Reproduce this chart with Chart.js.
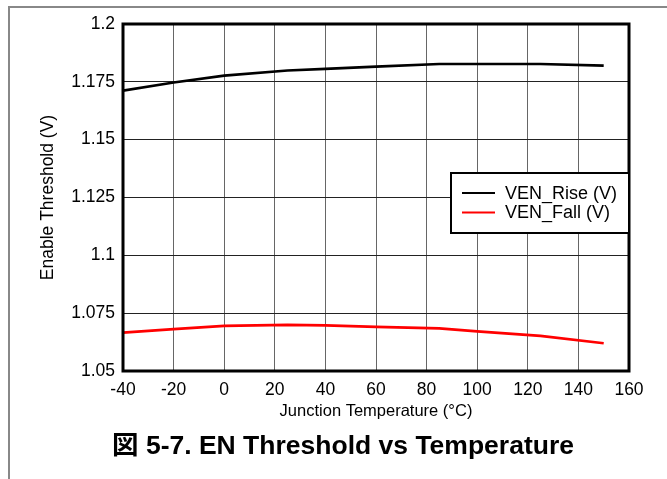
<!DOCTYPE html>
<html>
<head>
<meta charset="utf-8">
<script src="https://cdn.jsdelivr.net/npm/chart.js@4"></script>
<style>
  html, body { margin: 0; padding: 0; background: #fff; }
  #wrap { position: relative; width: 667px; height: 479px; }
  #frame { position: absolute; left: 8px; top: 6px; right: 0; bottom: 0;
           border-left: 2px solid #888; border-top: 2px solid #888; }
  canvas { position: absolute; left: 0; top: 0; }
</style>
</head>
<body>
<div id="wrap">
  <div id="frame"></div>
  <canvas id="enChart" width="667" height="479"></canvas>
</div>
<script>
const temps = [-40, -20, 0, 25, 40, 60, 85, 100, 125, 150];
const venRise = [1.1712, 1.1747, 1.1777, 1.1799, 1.1806, 1.1816, 1.1827, 1.1827, 1.1827, 1.1820];
const venFall = [1.0666, 1.0681, 1.0695, 1.0699, 1.0697, 1.0691, 1.0684, 1.0671, 1.0652, 1.0620];
const xTicks = [-40, -20, 0, 20, 40, 60, 80, 100, 120, 140, 160];
const yTicks = [1.05, 1.075, 1.1, 1.125, 1.15, 1.175, 1.2];
const caption = '図 5-7. EN Threshold vs Temperature';

const FONT = '"Liberation Sans", Arial, "Noto Sans CJK JP", sans-serif';
Chart.defaults.font.family = FONT;
Chart.defaults.color = '#000';

// plot frame, legend box and figure caption
const boxAndLegend = {
  id: 'boxAndLegend',
  afterDatasetsDraw(chart) {
    const ctx = chart.ctx;
    const a = chart.chartArea;
    ctx.save();
    ctx.strokeStyle = '#000';
    ctx.lineWidth = 3;
    ctx.strokeRect(a.left, a.top, a.right - a.left, a.bottom - a.top);

    const lx = 451, ly = 173, lw = a.right - lx, lh = 60;
    ctx.fillStyle = '#fff';
    ctx.fillRect(lx, ly, lw, lh);
    ctx.lineWidth = 2;
    ctx.strokeRect(lx, ly, lw, lh);
    ctx.font = '18px ' + FONT;
    ctx.textBaseline = 'middle';
    chart.data.datasets.forEach((ds, i) => {
      const y = ly + 20 + i * 19.5;
      ctx.strokeStyle = ds.borderColor;
      ctx.lineWidth = 2;
      ctx.beginPath();
      ctx.moveTo(462, y);
      ctx.lineTo(495, y);
      ctx.stroke();
      ctx.fillStyle = '#000';
      ctx.fillText(ds.label, 505, y + 1);
    });

    ctx.font = 'bold 26.5px ' + FONT;
    ctx.textAlign = 'center';
    ctx.fillStyle = '#000';
    ctx.fillText(caption, 343, 447);
    ctx.restore();
  }
};

new Chart(document.getElementById('enChart').getContext('2d'), {
  type: 'line',
  data: {
    datasets: [
      {
        label: 'VEN_Rise (V)',
        data: temps.map((t, i) => ({ x: t, y: venRise[i] })),
        borderColor: '#000',
        borderWidth: 2.7,
        pointRadius: 0,
        tension: 0
      },
      {
        label: 'VEN_Fall (V)',
        data: temps.map((t, i) => ({ x: t, y: venFall[i] })),
        borderColor: '#ff0000',
        borderWidth: 2.7,
        pointRadius: 0,
        tension: 0
      }
    ]
  },
  options: {
    responsive: false,
    animation: false,
    layout: { padding: { left: 0, top: 24, right: 38, bottom: 51 } },
    plugins: {
      legend: { display: false },
      tooltip: { enabled: false }
    },
    scales: {
      x: {
        type: 'linear',
        min: -40,
        max: 160,
        afterBuildTicks: (s) => { s.ticks = xTicks.map(v => ({ value: v })); },
        afterFit: (s) => { s.height = 57; },
        ticks: { font: { size: 17.5 }, padding: 9, maxRotation: 0 },
        grid: { color: '#666', lineWidth: 1, drawTicks: false },
        border: { display: false },
        title: {
          display: true,
          text: 'Junction Temperature (°C)',
          font: { size: 16.5 },
          padding: { top: 0, bottom: 7 }
        }
      },
      y: {
        min: 1.05,
        max: 1.2,
        afterBuildTicks: (s) => { s.ticks = yTicks.map(v => ({ value: v })); },
        afterFit: (s) => { s.width = 123; },
        ticks: {
          font: { size: 17.5 },
          padding: 8,
          callback: (v) => String(Number(v.toFixed(3)))
        },
        grid: { color: '#222', lineWidth: 1, drawTicks: false },
        border: { display: false },
        title: {
          display: true,
          text: 'Enable Threshold (V)',
          font: { size: 17.5 },
          padding: { top: 38, bottom: 0 }
        }
      }
    }
  },
  plugins: [boxAndLegend]
});
</script>
</body>
</html>
